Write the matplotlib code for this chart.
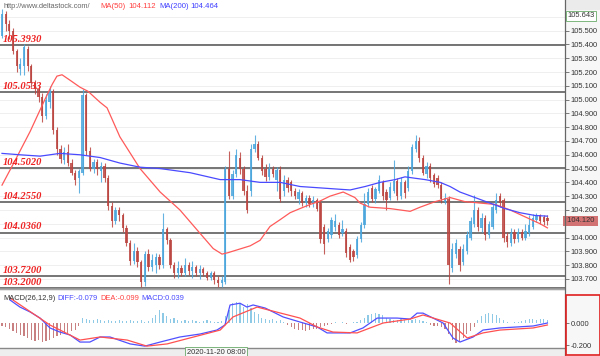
import matplotlib
matplotlib.use('Agg')
import matplotlib.pyplot as plt
import numpy as np
from matplotlib.patches import Rectangle
from matplotlib.lines import Line2D
from matplotlib.transforms import blended_transform_factory

# ---------------- data ----------------
opens = [105.46,105.62,105.55,105.50,105.35,105.22,105.24,105.37,105.24,105.12,
         105.08,105.02,104.88,104.98,105.06,104.78,104.64,104.56,104.62,104.54,
         104.47,104.43,104.47,105.03,104.63,104.50,104.55,104.48,104.52,104.43,
         104.23,104.12,104.20,104.16,104.07,103.96,103.83,103.90,103.82,103.68,
         103.88,103.79,103.80,103.86,103.80,104.06,103.98,103.80,103.74,103.78,
         103.74,103.80,103.76,103.79,103.74,103.77,103.74,103.71,103.74,103.69,
         103.67,103.68,104.50,104.30,104.46,104.58,104.50,104.34,104.34,104.64,
         104.68,104.58,104.50,104.44,104.50,104.42,104.49,104.34,104.42,104.40,
         104.34,104.28,104.32,104.25,104.29,104.24,104.27,104.25,104.08,103.99,
         104.02,104.08,104.09,104.03,104.05,103.93,103.90,103.87,103.99,104.09,
         104.24,104.36,104.28,104.34,104.40,104.33,104.29,104.34,104.41,104.30,
         104.40,104.36,104.48,104.64,104.70,104.58,104.46,104.52,104.45,104.43,
         104.38,104.26,104.28,103.78,103.88,103.92,103.82,103.90,104.00,104.10,
         104.20,104.07,104.14,104.02,104.08,104.20,104.30,104.27,104.01,103.96,
         104.04,103.99,104.04,104.00,104.03,104.08,104.13,104.16,104.15,104.14]
closes = [105.62,105.55,105.50,105.35,105.24,105.26,105.38,105.24,105.12,105.08,
          105.02,104.88,105.00,105.06,104.78,104.64,104.57,104.62,104.54,104.47,
          104.42,104.48,105.03,104.63,104.50,104.55,104.50,104.52,104.43,104.23,
          104.12,104.20,104.16,104.07,103.96,103.83,103.90,103.82,103.68,103.88,
          103.79,103.84,103.86,103.80,104.06,103.98,103.80,103.74,103.78,103.74,
          103.80,103.76,103.79,103.74,103.77,103.74,103.71,103.74,103.69,103.67,
          103.69,104.50,104.30,104.46,104.60,104.50,104.34,104.20,104.64,104.68,
          104.58,104.48,104.44,104.50,104.46,104.49,104.28,104.42,104.36,104.34,
          104.30,104.33,104.25,104.29,104.24,104.27,104.21,103.99,103.95,104.05,
          104.13,104.12,104.02,104.06,103.89,103.84,103.86,103.99,104.09,104.24,
          104.33,104.28,104.35,104.42,104.30,104.27,104.37,104.41,104.30,104.40,
          104.32,104.48,104.66,104.70,104.58,104.47,104.52,104.43,104.39,104.38,
          104.28,104.29,103.80,103.92,103.96,103.80,103.92,104.02,104.12,104.20,
          104.08,104.14,104.02,104.10,104.22,104.27,104.25,104.00,103.97,104.03,
          103.99,104.04,104.00,104.05,104.09,104.14,104.16,104.12,104.11,104.12]
highs = [105.66,105.64,105.58,105.52,105.37,105.30,105.40,105.39,105.26,105.14,
         105.10,105.05,105.04,105.10,105.08,104.80,104.67,104.66,104.68,104.57,
         104.49,104.50,105.08,105.05,104.66,104.57,104.57,104.55,104.54,104.45,
         104.26,104.22,104.22,104.18,104.09,103.98,103.96,103.93,103.84,103.90,
         103.92,103.88,103.89,103.88,104.18,104.08,104.00,103.82,103.83,103.80,
         103.85,103.82,103.83,103.80,103.80,103.79,103.76,103.76,103.76,103.72,
         103.72,104.52,104.63,104.49,104.64,104.62,104.52,104.38,104.68,104.74,
         104.70,104.60,104.53,104.54,104.52,104.51,104.52,104.45,104.44,104.42,
         104.36,104.35,104.34,104.31,104.31,104.30,104.29,104.27,104.10,104.07,
         104.15,104.17,104.11,104.13,104.07,103.95,103.92,104.01,104.11,104.32,
         104.36,104.38,104.37,104.45,104.42,104.35,104.40,104.56,104.43,104.44,
         104.42,104.52,104.68,104.74,104.73,104.60,104.55,104.54,104.47,104.45,
         104.40,104.32,104.30,103.96,103.99,103.94,103.95,104.05,104.15,104.31,
         104.22,104.18,104.16,104.12,104.25,104.32,104.32,104.29,104.04,104.07,
         104.06,104.07,104.06,104.10,104.16,104.17,104.18,104.17,104.16,104.16]
lows = [105.45,105.50,105.44,105.33,105.20,105.18,105.18,105.21,105.09,105.04,
        104.98,104.84,104.86,104.94,104.75,104.60,104.54,104.53,104.52,104.45,
        104.38,104.32,104.45,104.60,104.48,104.47,104.45,104.40,104.40,104.20,
        104.08,104.10,104.12,104.04,103.94,103.80,103.81,103.79,103.645,103.65,
        103.76,103.76,103.74,103.77,103.78,103.95,103.78,103.71,103.71,103.72,
        103.72,103.73,103.71,103.72,103.70,103.72,103.69,103.69,103.66,103.64,
        103.64,103.66,104.28,104.28,104.44,104.46,104.31,104.18,104.30,104.62,
        104.56,104.45,104.41,104.42,104.44,104.34,104.26,104.30,104.33,104.30,
        104.28,104.24,104.23,104.22,104.22,104.22,104.19,103.96,103.88,103.97,
        104.00,104.05,104.00,104.01,103.86,103.82,103.83,103.85,103.97,104.07,
        104.22,104.26,104.25,104.32,104.27,104.20,104.27,104.32,104.27,104.28,
        104.29,104.34,104.46,104.62,104.55,104.45,104.43,104.40,104.37,104.36,
        104.25,104.24,103.66,103.75,103.85,103.76,103.80,103.88,103.98,104.08,
        104.05,104.04,103.98,104.00,104.06,104.18,104.22,103.97,103.93,103.94,
        103.96,103.97,103.98,103.98,104.01,104.06,104.11,104.10,104.09,104.09]

ma50_idx = [0,3.6,7.7,11.7,13.7,15,16.4,18.6,21.3,23.5,26.8,28.7,32.2,37.7,43.2,48.6,
            53.3,57.7,60.1,61.7,67.8,70.5,73.2,76,78.7,81.4,84.2,86.9,89.6,93.2,96.4,
            97.8,100.5,106,111.5,114.2,118.3,122.4,126.5,130.6,134.7,138.8,142.9,147,149]
ma50_val = [104.38,104.56,104.77,105.00,105.11,105.17,105.18,105.14,105.09,105.06,104.98,
            104.94,104.73,104.50,104.33,104.20,104.055,103.92,103.88,103.89,103.94,103.98,
            104.08,104.13,104.18,104.21,104.24,104.265,104.30,104.33,104.29,104.25,104.22,
            104.21,104.19,104.22,104.26,104.29,104.26,104.25,104.24,104.20,104.15,104.10,104.07]

ma200_idx = [0,4.9,10.4,15.8,21.3,26.8,32.2,37.7,43.2,51.4,59.6,65,70.5,76,81.4,86.9,
             92.3,95.1,99.2,103.3,107.4,110.1,112.8,115.6,119.7,122.4,125.1,129.2,133.3,
             137.4,141.5,145.6,149]
ma200_val = [104.61,104.60,104.59,104.61,104.60,104.58,104.54,104.51,104.50,104.47,104.42,
             104.42,104.40,104.40,104.37,104.36,104.35,104.345,104.37,104.40,104.42,104.44,
             104.43,104.42,104.40,104.37,104.33,104.29,104.25,104.21,104.18,104.16,104.155]

diff_idx = [2.2,4.9,7.7,10.4,13.1,15.8,18.6,21.3,24,26.8,29.5,35,39,43.2,48.6,54.1,58.7,
            60.9,62.3,65,66.9,68.6,71.9,76.8,81.4,86.1,88.8,95.1,98.6,102.5,107.9,111.5,
            113.4,115,120.5,123.2,125.1,128.7,131.4,136,140.7,145.1,149]
diff_val = [0.209,0.145,0.10,0.045,-0.045,-0.082,-0.109,-0.173,-0.173,-0.127,-0.127,-0.19,
            -0.21,-0.173,-0.127,-0.10,-0.064,-0.018,0.164,0.18,0.145,0.164,0.136,0.055,0.009,
            -0.036,-0.09,-0.09,-0.045,0.045,0.045,0.036,0.09,0.09,0.0,-0.136,-0.173,-0.127,
            -0.064,-0.045,-0.036,-0.027,0.0]

dea_idx = [2.2,13.1,21.3,26.8,34.2,39.6,45.1,59.6,63.1,69.7,81.4,86.1,90.4,97,104.1,
           111.5,115,122.4,127.1,131.4,136,145.1,149]
dea_val = [0.227,-0.018,-0.155,-0.127,-0.155,-0.21,-0.19,-0.064,0.055,0.145,0.045,-0.036,
           -0.082,-0.09,0.0,0.036,0.073,0.0,-0.136,-0.09,-0.064,-0.045,-0.018]

hist = [-0.03,-0.04,-0.05,-0.07,-0.09,-0.11,-0.12,-0.14,-0.15,-0.16,-0.15,-0.17,
        -0.16,-0.15,-0.14,-0.12,-0.11,-0.10,-0.09,-0.07,-0.06,-0.03,
        0.05,0.04,0.03,0.03,0.04,0.03,0.02,0.03,0.02,
        0.02,0.03,0.02,0.02,0.03,0.02,0.02,0.03,0.01,0.02,
        0.05,0.07,0.12,0.09,0.06,0.04,0.05,0.03,0.02,0.03,
        0.02,0.03,0.02,0.01,0.02,0.03,0.02,0.01,0.01,0.02,
        0.06,0.12,0.18,0.19,0.18,0.15,0.17,0.14,0.10,0.08,0.05,
        0.04,0.03,0.04,0.02,0.03,0.01,
        -0.02,-0.04,-0.05,-0.06,-0.06,-0.07,-0.06,-0.05,-0.05,-0.04,-0.03,-0.02,-0.01,
        0.01,0.00,0.01,-0.01,0.00,0.01,0.01,
        0.03,0.05,0.07,0.08,0.09,0.08,0.07,0.05,0.04,0.03,
        0.03,0.04,0.03,0.04,0.03,0.04,0.03,0.02,0.01,
        -0.02,-0.03,-0.03,-0.04,-0.05,
        -0.10,-0.15,-0.18,-0.17,-0.14,-0.10,-0.07,-0.04,
        0.03,0.06,0.08,0.09,0.08,0.07,0.05,0.03,
        0.01,0.00,0.01,0.01,0.02,
        0.03,0.04,0.04,0.03,0.04,0.04,0.03]

level_vals = [105.3930, 105.0533, 104.5020, 104.2550, 104.0360, 103.7200, 103.2000]
level_labels = ["105.3930", "105.0533", "104.5020", "104.2550", "104.0360", "103.7200", "103.2000"]

price_ticks = [105.5,105.4,105.3,105.2,105.1,105.0,104.9,104.8,104.7,104.6,104.5,104.4,
               104.3,104.2,104.0,103.9,103.8,103.7]
grid_vals = [105.6,105.5,105.4,105.3,105.2,105.1,105.0,104.9,104.8,104.7,104.6,104.5,104.4,
             104.3,104.2,104.1,104.0,103.9,103.8,103.7]
macd_ticks = [0.0, -0.2]
macd_tick_labels = ["0.000", "-0.200"]
top_price_label = "105.643"
last_price_label = "104.120"
last_price = 104.12
date_label = "2020-11-20 08:00"

# ---------------- layout ----------------
W, H = 600, 356
fig = plt.figure(figsize=(6, 3.56), dpi=100)
fig.patch.set_facecolor('white')

def box(l, t, r, b):
    return [l / W, 1 - b / H, (r - l) / W, (b - t) / H]

def fx(x):
    return x / W

def fy(y):
    return 1 - y / H

SANS = ['Liberation Sans', 'DejaVu Sans']

# right strip background (behind everything)
fig.patches.append(Rectangle((fx(565), 0), 35 / W, 1, transform=fig.transFigure,
                             facecolor='#f7f7f7', edgecolor='none', zorder=-10))
fig.patches.append(Rectangle((fx(565), fy(10)), 35 / W, 10 / H, transform=fig.transFigure,
                             facecolor='#ebebeb', edgecolor='none', zorder=-10))

XL = (-0.55, 153.8)
idx = np.arange(len(closes))
O = np.array(opens); C = np.array(closes); Hh = np.array(highs); Ll = np.array(lows)
up = C >= O
blue = '#4aa6dc'
red = '#bb4440'
cols = [blue if u else red for u in up]

# ---- price panel ----
ax = fig.add_axes(box(0, 0, 565, 289))
ax.set_zorder(1)
ax.patch.set_alpha(0)
ax.set_xlim(*XL)
ax.set_ylim(103.627, 105.722)
for s in ax.spines.values():
    s.set_visible(False)
ax.set_xticks([])
for g in grid_vals:
    ax.axhline(g, xmax=1.0, color='#ececec', lw=0.6, zorder=0)
ylo = ax.get_ylim()[0]
trans = blended_transform_factory(ax.transAxes, ax.transData)
for v, lab in zip(level_vals, level_labels):
    yv = max(v, ylo + 0.004)
    ax.axhline(yv, color='#505050', lw=1.1, zorder=1)
    ax.text(0.005, yv + 0.012, lab, transform=trans, va='bottom', ha='left',
            fontsize=7.6, fontweight='bold', fontstyle='italic', color='#ee2222',
            family=['Liberation Serif', 'DejaVu Serif'], zorder=6)

ax.vlines(idx, Ll, Hh, colors=cols, lw=0.8, zorder=3, alpha=0.85)
body_h = np.maximum(np.abs(C - O), 0.006)
ax.bar(idx, body_h, bottom=np.minimum(O, C), width=0.62, color=cols, zorder=3,
       alpha=0.85, linewidth=0)

ax.plot(ma50_idx, ma50_val, color='#ff5a5a', lw=0.9, zorder=4)
ax.plot(ma200_idx, ma200_val, color='#4a4aff', lw=0.9, zorder=4)

ax.yaxis.tick_right()
ax.set_yticks(price_ticks)
ax.set_yticklabels(['%.3f' % t for t in price_ticks])
ax.tick_params(axis='y', length=3, width=0.6, color='#666666', labelsize=5.4,
               labelcolor='#333333', pad=1)
for t in ax.get_yticklabels():
    t.set_family(SANS)

# price boxes on axis
ax.text(1.0, last_price, ' ' + last_price_label + ' ', transform=trans, fontsize=5.4,
        color='#333333', va='center', ha='left', family=SANS, clip_on=False, zorder=10,
        bbox=dict(boxstyle='square,pad=0.25', facecolor='#d27272', edgecolor='none'))

# header
fig.text(fx(3), fy(7), 'http://www.deltastock.com/', fontsize=5.3, color='#666666',
         va='center', family=SANS)
fig.text(fx(100), fy(7), 'MA(50)', fontsize=5.6, color='#ff4040', va='center', family=SANS)
fig.text(fx(128), fy(7), '104.112', fontsize=5.6, color='#ff4040', va='center', family=SANS)
fig.text(fx(159), fy(7), 'MA(200)', fontsize=5.6, color='#4040ff', va='center', family=SANS)
fig.text(fx(190), fy(7), '104.464', fontsize=5.6, color='#4040ff', va='center', family=SANS)
fig.text(fx(567), fy(15.5), top_price_label, fontsize=5.4, color='#333333', va='center',
         ha='left', family=SANS, zorder=10,
         bbox=dict(boxstyle='square,pad=0.2', facecolor='white', edgecolor='#6aaa6a', lw=0.6))

# ---- MACD panel ----
ax2 = fig.add_axes(box(0, 291, 565, 347))
ax2.set_zorder(1)
ax2.patch.set_alpha(0)
ax2.set_xlim(*XL)
ax2.set_ylim(-0.218, 0.291)
for s in ax2.spines.values():
    s.set_visible(False)
ax2.set_xticks([])
hcols = ['#8ec9e6' if h >= 0 else '#c98080' for h in hist]
ax2.bar(idx, hist, width=0.32, color=hcols, linewidth=0, zorder=2)
ax2.plot(diff_idx, diff_val, color='#5050ff', lw=0.9, zorder=3)
ax2.plot(dea_idx, dea_val, color='#ff5050', lw=0.9, zorder=3)
ax2.yaxis.tick_right()
ax2.set_yticks(macd_ticks)
ax2.set_yticklabels(macd_tick_labels)
ax2.tick_params(axis='y', length=3, width=0.6, color='#666666', labelsize=5.4,
                labelcolor='#333333', pad=1)
for t in ax2.get_yticklabels():
    t.set_family(SANS)

fig.text(fx(3), fy(299), 'MACD(26,12,9)', fontsize=5.4, color='#333333', va='center', family=SANS)
fig.text(fx(57), fy(299), 'DIFF:-0.079', fontsize=5.4, color='#4a4aff', va='center', family=SANS)
fig.text(fx(100), fy(299), 'DEA:-0.099', fontsize=5.4, color='#ff4040', va='center', family=SANS)
fig.text(fx(141), fy(299), 'MACD:0.039', fontsize=5.4, color='#4a4aff', va='center', family=SANS)

# ---- frame / separators ----
fig.patches.append(Rectangle((0, fy(291)), fx(565), 2.5 / H, transform=fig.transFigure,
                             facecolor='#e6e6e6', edgecolor='none', zorder=5))
fig.patches.append(Rectangle((0, 0), fx(565), 8.5 / H, transform=fig.transFigure,
                             facecolor='#eeeeee', edgecolor='none', zorder=5))
fig.lines.append(Line2D([0, fx(565)], [fy(289), fy(289)], transform=fig.transFigure,
                        color='#999999', lw=1.2, zorder=6))
fig.lines.append(Line2D([0, fx(565)], [fy(347.5), fy(347.5)], transform=fig.transFigure,
                        color='#888888', lw=1.0, zorder=6))
fig.lines.append(Line2D([fx(565), fx(565)], [0, 1], transform=fig.transFigure,
                        color='#666666', lw=0.9, zorder=6))
fig.patches.append(Rectangle((fx(565.5), fy(355)), 34 / W, 60 / H, transform=fig.transFigure,
                             fill=False, edgecolor='#e02020', lw=1.2, zorder=7))
fig.text(fx(216), fy(352), date_label, fontsize=5.4, color='#333333', ha='center',
         va='center', family=SANS, zorder=8,
         bbox=dict(boxstyle='square,pad=0.2', facecolor='#f8f8f8', edgecolor='#6aaa6a', lw=0.6))

fig.savefig('out.png', dpi=100)
